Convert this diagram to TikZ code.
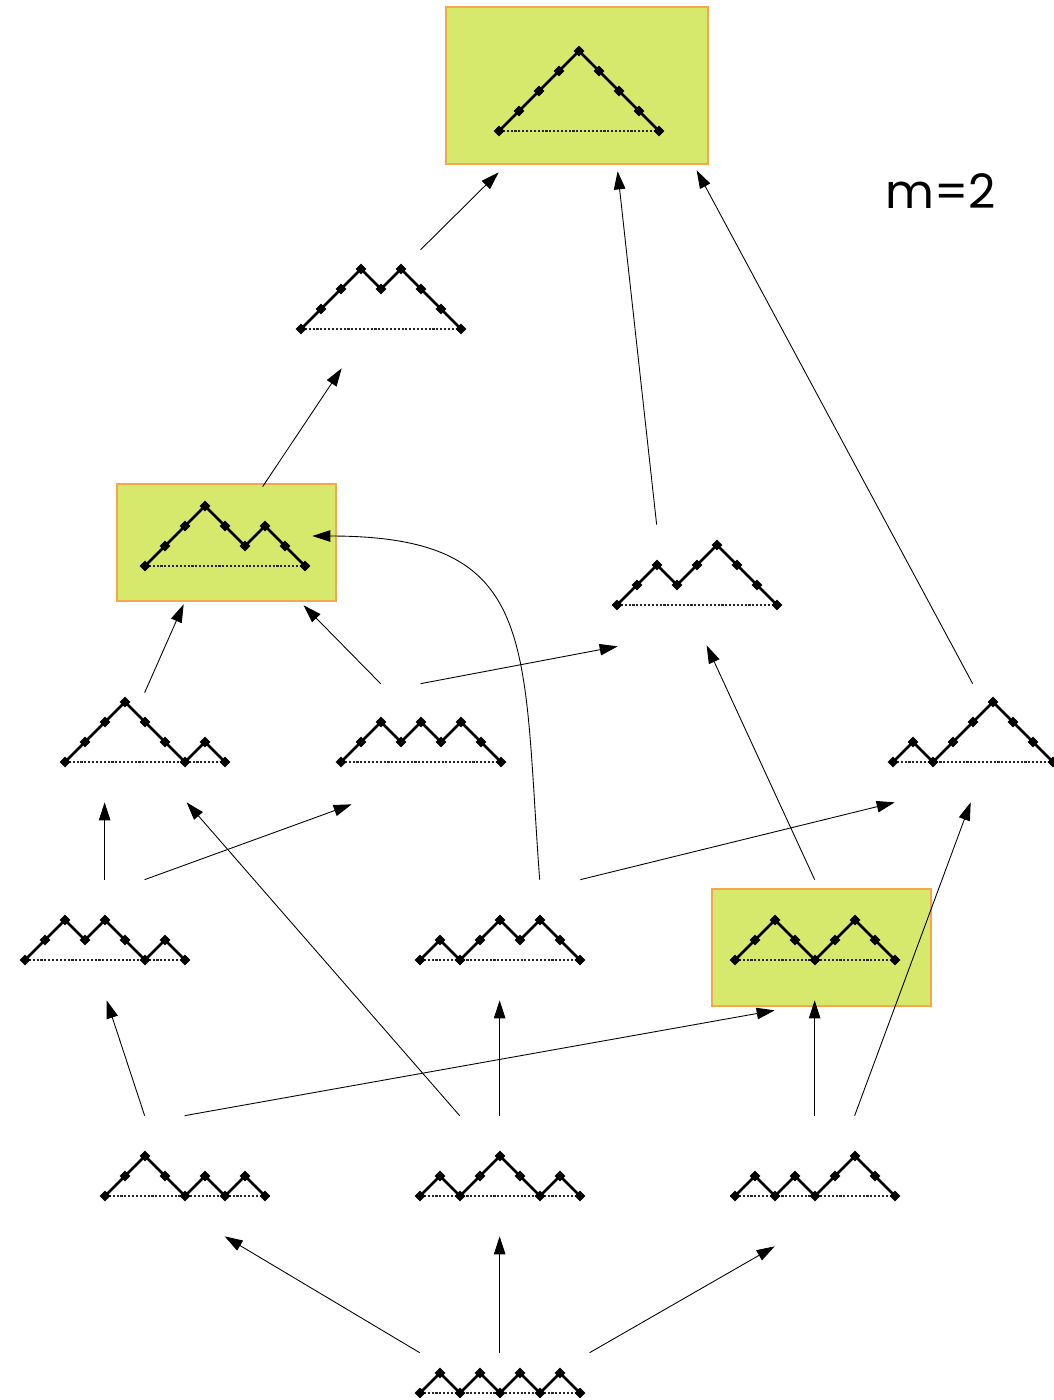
\documentclass[tikz,border=0pt]{standalone}
\usepackage{fontspec}
\newfontfamily\labelfont{Poppins}
\usetikzlibrary{arrows.meta, calc, shapes.geometric, backgrounds}
\definecolor{boxfill}{HTML}{D6E96C}
\definecolor{boxedge}{HTML}{F8A64C}

% Dyck path: name, left x, baseline y, heights after the start
\newcommand\dyck[4]{%
  \node[pathbox] (#1) at ({#2+80},{#3-20}) {};
  \draw[baseline] (#2,#3) -- ++(160,0);
  \draw[stepline] (#2,#3) \foreach \h [count=\i] in {#4} { -- ({#2+20*\i},{#3-20*\h}) };
  \foreach \h [count=\i from 0] in {0,#4}
    \node[pt] at ({#2+20*\i},{#3-20*\h}) {};
}

\begin{document}
\begin{tikzpicture}[
    x=0.2mm, y=-0.2mm,
    >={Triangle[length=3.6mm, width=2.3mm]},
    pathbox/.style={rectangle, inner sep=0pt, minimum width=32mm, minimum height=24mm},
    pt/.style={diamond, fill=black, inner sep=0pt, minimum size=2.2mm},
    stepline/.style={line width=1.5pt, line join=miter},
    baseline/.style={dash pattern=on 1.2pt off 1pt, line width=0.6pt, black!85},
    hilite/.style={draw=boxedge, fill=boxfill, line width=0.6pt},
    arr/.style={->, line width=0.5pt},
  ]
  \useasboundingbox (0,0) rectangle (1053,1400);

  % ============ highlighted boxes ============
  \filldraw[hilite] (446,7) rectangle (708,164);
  \filldraw[hilite] (117,484) rectangle (336,601);
  \filldraw[hilite] (712,889) rectangle (931,1006);

  % ============ Dyck paths, top to bottom ============
  \dyck{p1}{499}{131}{1,2,3,4,3,2,1,0}
  \dyck{p2}{301}{329}{1,2,3,2,3,2,1,0}
  \dyck{p3}{145}{566}{1,2,3,2,1,2,1,0}
  \dyck{p4}{617}{605}{1,2,1,2,3,2,1,0}
  \dyck{p5}{65}{762}{1,2,3,2,1,0,1,0}
  \dyck{p6}{341}{762}{1,2,1,2,1,2,1,0}
  \dyck{p7}{893}{762}{1,0,1,2,3,2,1,0}
  \dyck{p8}{25}{960}{1,2,1,2,1,0,1,0}
  \dyck{p9}{420}{960}{1,0,1,2,1,2,1,0}
  \dyck{p10}{735}{960}{1,2,1,0,1,2,1,0}
  \dyck{p11}{105}{1196}{1,2,1,0,1,0,1,0}
  \dyck{p12}{420}{1196}{1,0,1,2,1,0,1,0}
  \dyck{p13}{735}{1196}{1,0,1,0,1,2,1,0}
  \dyck{p14}{420}{1393}{1,0,1,0,1,0,1,0}

  \node[font=\labelfont\fontsize{27}{30}\selectfont] (mlabel) at (941,191) {m=2};

  % ============ Arrows ============
  % bottom row
  \draw[arr] ($(p14.north west)+(0,40)$) -- ($(p11.south west)+(120,0)$);
  \draw[arr] ($(p14.north west)+(80,40)$) -- ($(p12.south west)+(80,0)$);
  \draw[arr] ($(p14.north west)+(170,40)$) -- ($(p13.south west)+(40,10)$);

  % third row up
  \draw[arr] ($(p11.north west)+(40,0)$) -- ($(p8.south west)+(82,0)$);
  \draw[arr] ($(p11.north west)+(80,0)$) -- ($(p10.south west)+(40,10)$);
  \draw[arr] ($(p12.north west)+(40,0)$) -- ($(p5.south west)+(122,0)$);
  \draw[arr] ($(p12.north west)+(80,0)$) -- ($(p9.south west)+(80,0)$);
  \draw[arr] ($(p13.north west)+(80,0)$) -- ($(p10.south west)+(80,0)$);
  \draw[arr] ($(p13.north west)+(120,0)$) -- ($(p7.south west)+(78,0)$);

  % middle rows
  \draw[arr] ($(p8.north west)+(80,0)$) -- ($(p5.south west)+(40,0)$);
  \draw[arr] ($(p8.north west)+(120,0)$) -- ($(p6.south west)+(11,2)$);
  \draw[arr] ($(p9.north west)+(120,0)$) .. controls (522,640) and (540,536) .. ($(p3.east)+(7,-10)$);
  \draw[arr] (p9.north east) -- ($(p7.south west)+(2,0)$);
  \draw[arr] ($(p10.north west)+(80,0)$) -- ($(p4.south west)+(90,0)$);
  \draw[arr] ($(p5.north west)+(80,11)$) -- ($(p3.south west)+(39,-2)$);
  \draw[arr] ($(p6.north west)+(40,2)$) -- ($(p3.south west)+(159,-1)$);
  \draw[arr] ($(p6.north west)+(80,2)$) -- ($(p4.south west)+(1,1)$);

  % top rows
  \draw[arr] ($(p3.north west)+(118,1)$) -- ($(p2.south west)+(41,-1)$);
  \draw[arr] ($(p4.north west)+(40,0)$) -- ($(p1.south west)+(119,0)$);
  \draw[arr] ($(p7.north west)+(80,2)$) -- ($(p1.south west)+(198,-1)$);
  \draw[arr] ($(p2.north west)+(120,1)$) -- ($(p1.south west)+(0,1)$);

\end{tikzpicture}
\end{document}
